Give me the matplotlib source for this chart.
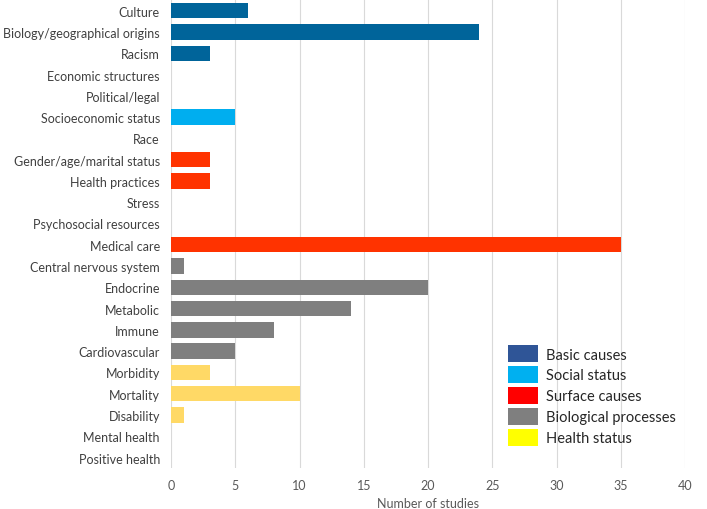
import matplotlib.pyplot as plt
from matplotlib.patches import Patch

plt.rcParams['font.family'] = ['Lato', 'DejaVu Sans']

# categories, top to bottom
categories = [
    "Culture", "Biology/geographical origins", "Racism", "Economic structures",
    "Political/legal", "Socioeconomic status", "Race", "Gender/age/marital status",
    "Health practices", "Stress", "Psychosocial resources", "Medical care",
    "Central nervous system", "Endocrine", "Metabolic", "Immune", "Cardiovascular",
    "Morbidity", "Mortality", "Disability", "Mental health", "Positive health",
]
studies = [6, 24, 3, 0, 0, 5, 0, 3, 3, 0, 0, 35, 1, 20, 14, 8, 5, 3, 10, 1, 0, 0]
groups = ["basic"] * 5 + ["social"] * 2 + ["surface"] * 5 + ["bio"] * 5 + ["health"] * 5

bar_colors = {"basic": "#00649A", "social": "#00AEEF", "surface": "#FF3300",
              "bio": "#7F7F7F", "health": "#FFD966"}
legend_labels = ["Basic causes", "Social status", "Surface causes",
                 "Biological processes", "Health status"]
legend_colors = ["#2F5597", "#00B0F0", "#FF0000", "#7F7F7F", "#FFFF00"]

fig = plt.figure(figsize=(7.07, 5.10), dpi=100)
ax = fig.add_axes([0.242, 0.080, 0.727, 0.918])

y = list(range(len(categories)))
ax.barh(y, studies, height=0.72, color=[bar_colors[g] for g in groups], zorder=3)

ax.set_ylim(len(categories) - 0.5, -0.5)
ax.set_yticks(y)
ax.set_yticklabels(categories, fontsize=9, color="#404040")
ax.set_xlim(0, 40)
ax.set_xticks(range(0, 41, 5))
ax.tick_params(axis='x', labelsize=9, labelcolor="#595959", length=0, pad=8)
ax.tick_params(axis='y', length=0, pad=8)
ax.grid(axis='x', color="#D9D9D9", linewidth=0.8, zorder=0)
for s in ax.spines.values():
    s.set_visible(False)
ax.set_xlabel("Number of studies", fontsize=9, color="#595959", labelpad=4)

handles = [Patch(facecolor=c, edgecolor='none') for c in legend_colors]
leg = ax.legend(handles, legend_labels, loc='lower right', bbox_to_anchor=(1.007, 0.02),
                frameon=False, fontsize=10.5, handlelength=2.0, handleheight=1.37,
                labelspacing=0.30, handletextpad=0.55)
for t in leg.get_texts():
    t.set_color("#262626")

fig.savefig("out.png", dpi=100)
